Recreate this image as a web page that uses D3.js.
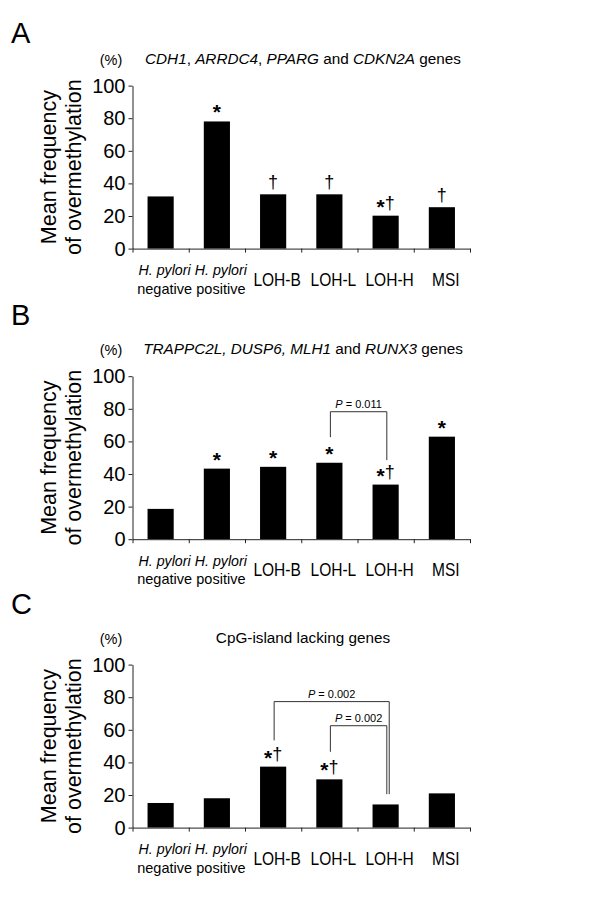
<!DOCTYPE html>
<html><head><meta charset="utf-8">
<script src="https://cdn.jsdelivr.net/npm/d3@7"></script>
<style>
body{margin:0;background:#fff;}
svg text{font-family:"Liberation Sans",Arial,Helvetica,sans-serif;fill:#000;}
</style></head><body>
<svg id="chart" width="600" height="899"></svg>
<script>
// ---------- data ----------
const categories = ["Hp-neg", "Hp-pos", "LOH-B", "LOH-L", "LOH-H", "MSI"];
const categoryLabels = [["H. pylori", "negative"], ["H. pylori", "positive"], ["LOH-B"], ["LOH-L"], ["LOH-H"], ["MSI"]];
const yTicks = [0, 20, 40, 60, 80, 100];
const panelLetters = ["A", "B", "C"];
const yTitle = ["Mean frequency", "of overmethylation"];
const unitLabel = "(%)";

const titleA = [["CDH1", true], [", ", false], ["ARRDC4", true], [", ", false], ["PPARG", true], [" and ", false], ["CDKN2A", true], [" genes", false]];
const titleB = [["TRAPPC2L, DUSP6, MLH1", true], [" and ", false], ["RUNX3", true], [" genes", false]];
const titleC = [["CpG-island lacking genes", false]];

const valuesA = [32, 78, 33.3, 33.3, 20.2, 25.4];
const valuesB = [18.6, 43.3, 44.4, 46.9, 33.5, 62.9];
const valuesC = [15.1, 18, 37.4, 29.6, 14.2, 21];

const marksA = ["", "*", "†", "†", "*†", "†"];
const marksB = ["", "*", "*", "*", "*†", "*"];
const marksC = ["", "", "*†", "*†", "", ""];

const bracketsA = [];
const bracketsB = [{from: "LOH-L", to: "LOH-H", top: 78.2, leftEnd: 62.6, rightEnd: 48.5, p: "0.011"}];
const bracketsC = [
  {from: "LOH-B", to: "LOH-H", top: 77.3, leftEnd: 53.5, rightEnd: 20.5, p: "0.002"},
  {from: "LOH-L", to: "LOH-H", top: 62.5, leftEnd: 46.5, rightEnd: 20.5, p: "0.002"}
];

const panels = [
  {letter: panelLetters[0], title: titleA, values: valuesA, marks: marksA, brackets: bracketsA},
  {letter: panelLetters[1], title: titleB, values: valuesB, marks: marksB, brackets: bracketsB},
  {letter: panelLetters[2], title: titleC, values: valuesC, marks: marksC, brackets: bracketsC}
];

// ---------- layout ----------
const panelOffsets = [0, 290.6, 579];
const letterBaselines = [43.3, 34.5, 35];
const plotLeft = 132.5, plotRight = 470, zeroY = 248.6, topY = 85.6;
const axisColor = "#222";

const svg = d3.select("#chart");

const x = d3.scaleBand().domain(categories).range([plotLeft, plotRight])
  .paddingInner(0.535).paddingOuter(0.2675);
const boundary = d3.scaleLinear().domain([0, categories.length]).range([plotLeft, plotRight]);
const y = d3.scaleLinear().domain([0, 100]).range([zeroY, topY]);

panels.forEach((p, pi) => {
  const g = svg.append("g").attr("transform", `translate(0,${panelOffsets[pi]})`);

  // panel letter
  g.append("text").attr("x", 11).attr("y", letterBaselines[pi])
    .style("font-size", "29px").text(p.letter);

  // title
  const t = g.append("text").attr("x", 303).attr("y", 63.5)
    .attr("text-anchor", "middle").style("font-size", "15.3px");
  p.title.forEach(([s, it]) => t.append("tspan").style("font-style", it ? "italic" : "normal").text(s));

  // unit label
  g.append("text").attr("x", 111).attr("y", 64.5).attr("text-anchor", "middle")
    .style("font-size", "14.5px").text(unitLabel);

  // y title
  const yc = (zeroY + topY) / 2;
  [56, 80.5].forEach((bx, i) => {
    g.append("text").attr("transform", `translate(${bx},${yc}) rotate(-90)`)
      .attr("text-anchor", "middle").style("font-size", "21.5px").text(yTitle[i]);
  });

  // bars
  g.selectAll("rect.bar").data(p.values).join("rect").attr("class", "bar")
    .attr("x", (d, i) => x(categories[i]))
    .attr("width", x.bandwidth())
    .attr("y", d => y(d))
    .attr("height", d => y(0) - y(d))
    .attr("fill", "#000");

  // y axis
  const ya = g.append("g").attr("transform", `translate(${plotLeft},0)`)
    .call(d3.axisLeft(y).tickValues(yTicks).tickSize(4).tickSizeOuter(0).tickPadding(3));
  ya.select(".domain").attr("stroke", axisColor);
  ya.selectAll(".tick line").attr("stroke", axisColor);
  ya.selectAll(".tick text").style("font-size", "20px").attr("fill", "#000")
    .style("font-family", '"Liberation Sans",Arial,sans-serif');

  // x axis (boundary ticks)
  const xa = g.append("g").attr("transform", `translate(0,${zeroY})`)
    .call(d3.axisBottom(boundary).tickValues(d3.range(categories.length + 1)).tickSize(4).tickSizeOuter(0).tickFormat(""));
  xa.select(".domain").attr("stroke", axisColor);
  xa.selectAll(".tick line").attr("stroke", axisColor);

  // category labels
  categoryLabels.forEach((lab, i) => {
    const cx = x(categories[i]) + x.bandwidth() / 2 + 4;
    if (lab.length === 2) {
      g.append("text").attr("x", cx).attr("y", zeroY + 26.5).attr("text-anchor", "middle")
        .style("font-size", "14.2px").style("font-style", "italic").text(lab[0]);
      g.append("text").attr("x", cx).attr("y", zeroY + 45).attr("text-anchor", "middle")
        .style("font-size", "14.5px").text(lab[1]);
    } else {
      g.append("text").attr("transform", `translate(${cx},${zeroY + 37}) scale(0.84,1)`)
        .attr("text-anchor", "middle").style("font-size", "18.5px").text(lab[0]);
    }
  });

  // significance marks
  p.marks.forEach((m, i) => {
    if (!m) return;
    const cx = x(categories[i]) + x.bandwidth() / 2;
    const top = y(p.values[i]);
    const tx = g.append("text").attr("x", cx).attr("y", top - 6.5)
      .attr("text-anchor", "middle");
    let shifted = 0;
    [...m].forEach(ch => {
      if (ch === "*") {
        tx.append("tspan").attr("dy", 4.5 - shifted).style("font-size", "21px").style("font-weight", "bold").text("*");
        shifted = 4.5;
      } else {
        tx.append("tspan").attr("dy", -shifted).style("font-size", "18px").text(ch);
        shifted = 0;
      }
    });
  });

  // brackets
  p.brackets.forEach((b, bi) => {
    const xL = x(b.from) + x.bandwidth() / 2 + 1;
    const xR = x(b.to) + x.bandwidth() / 2 + 1.2 + 2.4 * (p.brackets.length - 1 - bi);
    g.append("path")
      .attr("d", `M${xL},${y(b.leftEnd)}V${y(b.top)}H${xR}V${y(b.rightEnd)}`)
      .attr("fill", "none").attr("stroke", "#333").attr("stroke-width", 1);
    const lt = g.append("text").attr("x", (xL + xR) / 2).attr("y", y(b.top) - 3.5)
      .attr("text-anchor", "middle").style("font-size", "11px");
    lt.append("tspan").style("font-style", "italic").text("P");
    lt.append("tspan").text(" = " + b.p);
  });
});
</script>
</body></html>
